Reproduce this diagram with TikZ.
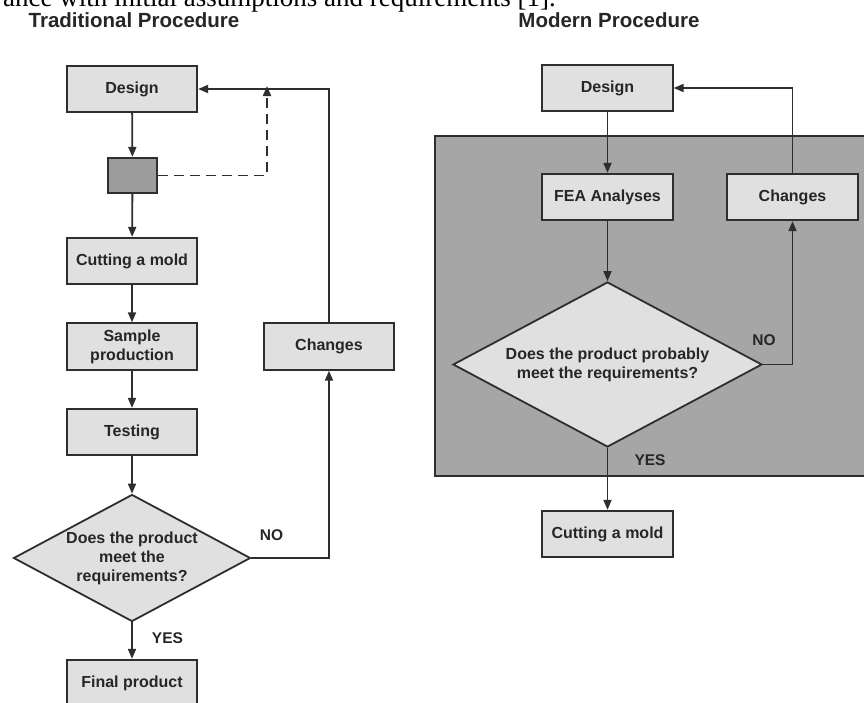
\documentclass[tikz,border=0pt]{standalone}
\usepackage{fontspec}
\setmainfont{Liberation Sans}
\newfontfamily\bodyserif{Liberation Serif}
\usetikzlibrary{shapes.geometric,arrows.meta}
\definecolor{boxfill}{HTML}{E0E0E0}
\definecolor{darkfill}{HTML}{9C9C9C}
\definecolor{areafill}{HTML}{A6A6A6}
\definecolor{linegray}{HTML}{2E2E2E}
\tikzset{
  procbox/.style={draw=linegray, fill=boxfill, line width=1.8pt, minimum width=130.5pt, minimum height=46.5pt, inner sep=0pt, align=center, text=black!85, font=\bfseries\fontsize{16}{19}\selectfont},
  decbox/.style={draw=linegray, fill=boxfill, line width=1.8pt, shape=diamond, inner sep=0pt, align=center, text=black!85, font=\bfseries\fontsize{16}{19}\selectfont},
  flow/.style={draw=linegray, line width=1.8pt, -{Triangle[length=10pt,width=8pt]}},
  tag/.style={text=black!85, font=\bfseries\fontsize{15.5}{18}\selectfont},
  heading/.style={text=black!85, font=\bfseries\fontsize{20.5}{24}\selectfont}
}
\begin{document}
\begin{tikzpicture}[x=1pt,y=-1pt]
\useasboundingbox (0,0) rectangle (864,702);
\node[anchor=base east, inner sep=0pt, font=\bodyserif\fontsize{27}{30}\selectfont] (cutline) at (556,6) {ance with initial assumptions and requirements [1].};
\node[heading] (titleA) at (134,20) {Traditional Procedure};
\node[heading] (titleB) at (609,20) {Modern Procedure};

\node[procbox] (designA) at (132,89) {Design};
\node[procbox, fill=darkfill, minimum width=49.5pt, minimum height=35.5pt] (check) at (132.5,175.5) {};
\node[procbox] (moldA) at (132,261) {Cutting a mold};
\node[procbox] (sample) at (132,346.5) {Sample\\production};
\node[procbox] (testing) at (132,432) {Testing};
\node[decbox, minimum width=237pt, minimum height=127pt, shape aspect=1.87] (meetA) at (132,558) {Does the product\\meet the\\requirements?};
\node[procbox] (final) at (132,683) {Final product};
\node[procbox] (changesA) at (329,346.5) {Changes};
\coordinate (dashtop) at (267,89);
\draw[flow] (designA) -- (check);
\draw[flow] (check) -- (moldA);
\draw[flow] (moldA) -- (sample);
\draw[flow] (sample) -- (testing);
\draw[flow] (testing) -- (meetA);
\draw[flow] (meetA) -- (final);
\draw[flow] (meetA.east) -| (changesA);
\draw[flow] (changesA) |- (designA);
\draw[flow, dash pattern=on 10pt off 6pt] (check.east) -| ([yshift=3pt]dashtop);
\node[tag] (yesA) at (167.5,638) {YES};
\node[tag] (noA) at (271.5,535) {NO};

\draw[linegray, line width=1.8pt, fill=areafill] (435,136) rectangle (880,476);
\node[procbox] (designB) at (607.5,88) {Design};
\node[procbox] (fea) at (607.5,197) {FEA Analyses};
\node[procbox] (changesB) at (792.5,197) {Changes};
\node[decbox, minimum width=309pt, minimum height=165pt, shape aspect=1.87] (meetB) at (607.5,364.5) {Does the product probably\\meet the requirements?};
\node[procbox] (moldB) at (607.5,534) {Cutting a mold};
\draw[flow] (designB) -- (fea);
\draw[flow] (fea) -- (meetB);
\draw[flow] (meetB) -- (moldB);
\draw[flow] (meetB.east) -| (changesB);
\draw[flow] (changesB) |- (designB);
\node[tag] (yesB) at (650,460) {YES};
\node[tag] (noB) at (764,340) {NO};
\end{tikzpicture}
\end{document}
